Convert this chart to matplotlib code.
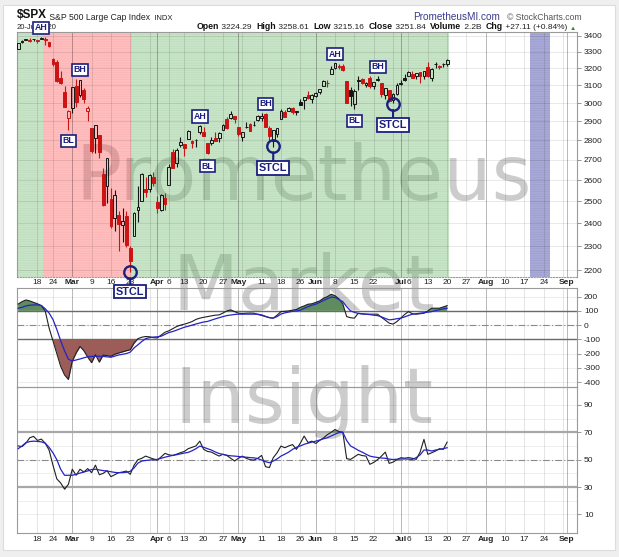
import matplotlib
matplotlib.use('Agg')
import matplotlib.pyplot as plt
import numpy as np
import pandas as pd
from matplotlib.patches import Rectangle
from matplotlib.text import Annotation

plt.rcParams['font.family'] = ['Liberation Sans', 'DejaVu Sans']
plt.rcParams['hatch.linewidth'] = 0.35

# ---------------- data ----------------
dates = [
    '2020-02-10', '2020-02-11', '2020-02-12', '2020-02-13', '2020-02-14',
    '2020-02-18', '2020-02-19', '2020-02-20', '2020-02-21',
    '2020-02-24', '2020-02-25', '2020-02-26', '2020-02-27', '2020-02-28',
    '2020-03-02', '2020-03-03', '2020-03-04', '2020-03-05', '2020-03-06',
    '2020-03-09', '2020-03-10', '2020-03-11', '2020-03-12', '2020-03-13',
    '2020-03-16', '2020-03-17', '2020-03-18', '2020-03-19', '2020-03-20',
    '2020-03-23', '2020-03-24', '2020-03-25', '2020-03-26', '2020-03-27',
    '2020-03-30', '2020-03-31', '2020-04-01', '2020-04-02', '2020-04-03',
    '2020-04-06', '2020-04-07', '2020-04-08', '2020-04-09',
    '2020-04-13', '2020-04-14', '2020-04-15', '2020-04-16', '2020-04-17',
    '2020-04-20', '2020-04-21', '2020-04-22', '2020-04-23', '2020-04-24',
    '2020-04-27', '2020-04-28', '2020-04-29', '2020-04-30', '2020-05-01',
    '2020-05-04', '2020-05-05', '2020-05-06', '2020-05-07', '2020-05-08',
    '2020-05-11', '2020-05-12', '2020-05-13', '2020-05-14', '2020-05-15',
    '2020-05-18', '2020-05-19', '2020-05-20', '2020-05-21', '2020-05-22',
    '2020-05-26', '2020-05-27', '2020-05-28', '2020-05-29',
    '2020-06-01', '2020-06-02', '2020-06-03', '2020-06-04', '2020-06-05',
    '2020-06-08', '2020-06-09', '2020-06-10', '2020-06-11', '2020-06-12',
    '2020-06-15', '2020-06-16', '2020-06-17', '2020-06-18', '2020-06-19',
    '2020-06-22', '2020-06-23', '2020-06-24', '2020-06-25', '2020-06-26',
    '2020-06-29', '2020-06-30', '2020-07-01', '2020-07-02',
    '2020-07-06', '2020-07-07', '2020-07-08', '2020-07-09', '2020-07-10',
    '2020-07-13', '2020-07-14', '2020-07-15', '2020-07-16', '2020-07-17',
    '2020-07-20',
]

opens = [
    3318.28, 3365.87, 3370.50, 3365.90, 3378.08,
    3369.04, 3380.39, 3380.45, 3360.50,
    3257.61, 3238.94, 3139.90, 3062.54, 2916.90,
    2974.28, 3096.46, 3045.75, 3075.70, 2954.20,
    2863.89, 2813.48, 2825.60, 2630.86, 2569.99,
    2508.59, 2425.66, 2436.50, 2393.48, 2431.94,
    2290.71, 2344.44, 2457.77, 2501.29, 2555.87,
    2558.98, 2614.69, 2498.08, 2458.54, 2514.92,
    2578.28, 2738.65, 2685.00, 2776.99,
    2782.46, 2805.10, 2795.64, 2799.34, 2842.43,
    2845.62, 2784.81, 2787.89, 2810.42, 2812.64,
    2854.65, 2909.96, 2918.46, 2930.91, 2869.09,
    2815.01, 2868.88, 2883.14, 2878.26, 2908.83,
    2915.46, 2939.50, 2865.86, 2794.54, 2829.95,
    2913.86, 2948.59, 2953.63, 2969.95, 2948.05,
    3004.08, 3015.65, 3046.61, 3025.17,
    3038.78, 3064.78, 3098.90, 3111.56, 3163.84,
    3199.92, 3213.32, 3213.42, 3123.53, 3071.04,
    2993.76, 3131.00, 3136.13, 3101.64, 3140.29,
    3094.42, 3138.70, 3114.40, 3046.60, 3073.20,
    3018.59, 3050.20, 3105.92, 3143.64,
    3155.29, 3166.44, 3153.07, 3176.17, 3152.47,
    3205.08, 3141.11, 3225.98, 3208.36, 3224.21,
    3224.29,
]
highs = [
    3352.26, 3375.63, 3381.47, 3385.09, 3380.69,
    3375.01, 3393.52, 3389.15, 3360.76,
    3259.81, 3246.99, 3182.51, 3097.07, 2959.72,
    3090.96, 3136.72, 3130.97, 3083.04, 2985.93,
    2863.89, 2882.59, 2825.60, 2660.95, 2711.33,
    2562.98, 2553.93, 2453.57, 2466.97, 2453.01,
    2300.73, 2449.71, 2571.42, 2637.01, 2615.91,
    2631.80, 2641.39, 2522.75, 2533.22, 2538.18,
    2676.85, 2756.89, 2760.75, 2818.57,
    2782.46, 2851.85, 2801.88, 2806.51, 2879.22,
    2868.98, 2785.54, 2815.10, 2844.90, 2842.71,
    2887.72, 2921.15, 2954.86, 2930.91, 2869.09,
    2844.24, 2898.23, 2891.11, 2901.92, 2932.16,
    2944.25, 2945.82, 2874.14, 2852.80, 2865.01,
    2968.09, 2964.21, 2980.29, 2978.50, 2956.76,
    3021.72, 3036.25, 3068.67, 3049.17,
    3062.18, 3081.07, 3130.94, 3128.91, 3211.72,
    3233.13, 3222.71, 3223.27, 3123.53, 3088.42,
    3079.76, 3153.45, 3141.16, 3120.00, 3155.53,
    3120.92, 3154.90, 3115.01, 3086.25, 3073.73,
    3053.89, 3111.51, 3128.44, 3165.81,
    3182.59, 3184.15, 3171.80, 3179.78, 3186.82,
    3235.32, 3200.95, 3238.28, 3220.39, 3233.52,
    3258.61,
]
lows = [
    3317.77, 3352.72, 3369.72, 3360.52, 3366.15,
    3355.61, 3378.83, 3341.02, 3328.45,
    3214.65, 3118.77, 3108.99, 2977.39, 2855.84,
    2945.19, 2976.63, 3034.38, 2999.83, 2901.54,
    2734.43, 2734.00, 2707.22, 2478.86, 2492.37,
    2380.94, 2367.04, 2280.52, 2319.78, 2295.56,
    2191.86, 2344.44, 2407.53, 2500.72, 2520.02,
    2545.28, 2571.15, 2447.49, 2455.79, 2459.96,
    2574.57, 2657.67, 2663.30, 2762.36,
    2721.17, 2805.10, 2761.54, 2764.32, 2830.88,
    2820.43, 2727.10, 2775.95, 2794.26, 2791.76,
    2852.89, 2860.71, 2912.16, 2892.47, 2821.61,
    2797.85, 2863.55, 2847.65, 2876.48, 2902.88,
    2903.44, 2869.59, 2793.15, 2766.64, 2816.78,
    2913.86, 2922.35, 2953.63, 2938.57, 2933.59,
    2988.17, 2969.75, 3023.40, 2998.61,
    3031.54, 3051.64, 3098.90, 3090.41, 3163.84,
    3196.00, 3193.11, 3181.49, 2999.49, 2984.47,
    2965.66, 3076.06, 3108.03, 3093.51, 3083.11,
    3079.39, 3127.12, 3032.13, 3024.01, 3004.63,
    2999.74, 3047.83, 3101.17, 3124.52,
    3155.29, 3142.93, 3136.53, 3115.70, 3136.22,
    3149.43, 3127.66, 3200.76, 3198.59, 3205.65,
    3215.16,
]
closes = [
    3352.09, 3357.75, 3379.45, 3373.94, 3380.16,
    3370.29, 3386.15, 3373.23, 3337.75,
    3225.89, 3128.21, 3116.39, 2978.76, 2954.22,
    3090.23, 3003.37, 3130.12, 3023.94, 2972.37,
    2746.56, 2882.23, 2741.38, 2480.64, 2711.02,
    2386.13, 2529.19, 2398.10, 2409.39, 2304.92,
    2237.40, 2447.33, 2475.56, 2630.07, 2541.47,
    2626.65, 2584.59, 2470.50, 2526.90, 2488.65,
    2663.68, 2659.41, 2749.98, 2789.82,
    2761.63, 2846.06, 2783.36, 2799.55, 2874.56,
    2823.16, 2736.56, 2799.31, 2797.80, 2836.74,
    2878.48, 2863.39, 2939.51, 2912.43, 2830.71,
    2842.74, 2868.44, 2848.42, 2881.19, 2929.80,
    2930.32, 2870.12, 2820.00, 2852.50, 2863.70,
    2953.91, 2922.94, 2971.61, 2948.51, 2955.45,
    2991.77, 3036.13, 3029.73, 3044.31,
    3055.73, 3080.82, 3122.87, 3112.35, 3193.93,
    3232.39, 3207.18, 3190.14, 3002.10, 3041.31,
    3066.59, 3124.74, 3113.49, 3115.34, 3097.74,
    3117.86, 3131.29, 3050.33, 3083.76, 3009.05,
    3053.24, 3100.29, 3115.86, 3130.01,
    3179.72, 3145.32, 3169.94, 3152.05, 3185.04,
    3155.22, 3197.52, 3226.56, 3215.57, 3224.73,
    3251.84,
]
volume_text = '2.2B'

cci = [
    148, 165, 177, 170, 160,
    150, 137, 100, -20,
    -110, -200, -290, -350, -382,
    -254, -196, -150, -180, -225,
    -264, -208, -260, -210, -215,
    -219, -205, -196, -188, -180,
    -173, -126, -95, -85, -80,
    -82, -88, -90, -70, -50,
    -40, -25, -10, 0,
    7, 15, 25, 40, 49,
    55, 60, 65, 70, 72,
    85, 100, 107, 95, 84,
    82, 84, 85, 84, 75,
    68, 60, 52, 49, 70,
    95, 97, 100, 105, 110,
    125, 135, 147, 150,
    160, 170, 189, 200, 217,
    207, 185, 150, 60, 52,
    49, 84, 80, 77, 77,
    77, 77, 55, 35, 14,
    7, 25, 49, 75,
    95, 80, 77, 80, 84,
    100, 119, 119, 119, 128,
    137,
]
cci_ma = [
    119, 125, 135, 140, 142,
    142, 138, 115, 85,
    40, -30, -110, -180, -240,
    -252, -245, -238, -230, -222,
    -220, -219, -219, -220, -223,
    -226, -218, -210, -205, -200,
    -190, -160, -138, -115, -95,
    -88, -84, -82, -78, -65,
    -52, -45, -35, -25,
    -15, -8, 0, 8, 15,
    22, 26, 35, 44, 52,
    60, 67, 71, 75, 77,
    77, 77, 77, 77, 77,
    72, 62, 53, 49, 60,
    78, 86, 92, 97, 100,
    105, 118, 130, 140,
    147, 160, 173, 186, 197,
    195, 180, 165, 130, 100,
    90, 82, 78, 77, 74,
    70, 67, 58, 47, 37,
    40, 45, 49, 58,
    68, 77, 80, 84, 87,
    91, 95, 102, 108, 114,
    119,
]
rsi = [
    60, 59.5, 62, 66, 67,
    64, 65, 62, 57,
    46, 36, 33, 28.5, 32,
    43, 38.6, 43, 41, 43.5,
    40.5, 46, 39, 40, 42,
    37.6, 39, 40.5, 41, 41.7,
    39.3, 46, 50, 51, 52.6,
    51.5, 50.5, 49.7, 52, 54.6,
    53.5, 53.1, 54, 55.1,
    56, 58, 59, 60, 63.5,
    57.5, 56, 55.5, 54, 52.6,
    54, 53, 51, 49, 51,
    52.6, 51, 50, 49.7, 51,
    53.1, 44.9, 44.2, 51.4, 55,
    59.9, 58.7, 60, 61, 57.5,
    62, 67.2, 62.5, 63.5,
    61.8, 64, 65.8, 68.2, 70,
    72, 70.5, 70, 50.7, 50.2,
    52, 53.9, 53, 52.6, 46.6,
    48, 50, 52.6, 55.5, 47.3,
    48.2, 50, 51.4, 51.1,
    51.5, 51, 50.2, 55.5, 64.8,
    53.9, 55, 56.3, 58, 57.5,
    62.8,
]
rsi_ma = [
    58, 60, 62.4, 63.2, 63.5,
    63.3, 63, 62, 59,
    55, 50, 43, 38.6, 38.6,
    38.6, 39.3, 40.2, 41, 41.8,
    42.8, 43, 42.5, 42, 41.7,
    41.2, 40.7, 40.5, 40.5, 40.8,
    41.5, 44, 47.5, 49, 49.4,
    49.7, 50, 50.2, 51, 51.8,
    52.5, 53.1, 53.6, 54.2,
    54.8, 55.3, 56.5, 58, 59.9,
    59, 58, 57, 55.6, 54.5,
    53.8, 53.2, 52.8, 52.6, 52.3,
    52, 51.8, 51.5, 51.3, 50.8,
    49.7, 48.5, 47.8, 49, 50.5,
    52.6, 54, 55.5, 57.5, 59,
    60, 61.2, 62, 62.8,
    63.5, 64.3, 65.2, 66, 67.3,
    68.6, 69.7, 70, 64, 60,
    58.5, 56.8, 55.5, 54, 52.6,
    52, 51.6, 51.2, 51, 50.4,
    50.1, 50.3, 50.5, 50.5,
    50.4, 50.2, 51.5, 53.5, 57,
    57, 56.3, 57, 57.5, 58,
    58.7,
]

# shaded periods (inclusive date ranges)
green_periods = [('2020-02-10', '2020-02-19'), ('2020-03-24', '2020-07-20')]
red_periods = [('2020-02-20', '2020-03-23')]
purple_periods = [('2020-08-19', '2020-08-25')]

# signal boxes
box_labels = ['AH', 'BH', 'BL', 'AH', 'BL', 'BH', 'AH', 'BH', 'BL']
box_dates = ['2020-02-19', '2020-03-04', '2020-02-28', '2020-04-17', '2020-04-21',
             '2020-05-12', '2020-06-08', '2020-06-23', '2020-06-15']
box_prices = [3449, 3190, 2798, 2926, 2669, 2997, 3286, 3208, 2903]
stcl_dates = ['2020-03-23', '2020-05-14', '2020-06-29']
stcl_circle_prices = [2192, 2770, 2996]
stcl_box_prices = [2113, 2659, 2880]

xtick_dates = ['2020-02-18', '2020-02-24', '2020-03-02', '2020-03-09', '2020-03-16',
               '2020-03-23', '2020-04-01', '2020-04-06', '2020-04-13', '2020-04-20',
               '2020-04-27', '2020-05-01', '2020-05-11', '2020-05-18', '2020-05-26',
               '2020-06-01', '2020-06-08', '2020-06-15', '2020-06-22', '2020-07-01',
               '2020-07-06', '2020-07-13', '2020-07-20', '2020-07-27', '2020-08-03',
               '2020-08-10', '2020-08-17', '2020-08-24', '2020-09-01']
xtick_labels = ['18', '24', 'Mar', '9', '16', '23', 'Apr', '6', '13', '20', '27', 'May',
                '11', '18', '26', 'Jun', '8', '15', '22', 'Jul', '6', '13', '20', '27',
                'Aug', '10', '17', '24', 'Sep']
extra_grid_dates = ['2020-03-30', '2020-05-04', '2020-06-29', '2020-08-31']
month_names = ['Mar', 'Apr', 'May', 'Jun', 'Jul', 'Aug', 'Sep']

price_ticks = [2200, 2300, 2400, 2500, 2600, 2700, 2800, 2900, 3000, 3100, 3200, 3300, 3400]
cci_ticks = [200, 100, 0, -100, -200, -300, -400]
rsi_ticks = [90, 70, 50, 30, 10]

# ---------------- layout ----------------
W, H = 619, 557
fig = plt.figure(figsize=(W / 100, H / 100), dpi=100, facecolor='#efefef')


def fx(px):
    return px / W


def fy(py):
    return 1 - py / H


fig.add_artist(Rectangle((fx(3), fy(550)), fx(615) - fx(3), fy(5) - fy(550),
                         transform=fig.transFigure, facecolor='white',
                         edgecolor='#dcdcdc', lw=0.8, zorder=-3))

# watermark (under the plots)
for word, base in [('Prometheus', 200), ('Market', 310), ('Insight', 423)]:
    fig.text(fx(304), fy(base), word, fontsize=55, family='DejaVu Sans',
             ha='center', va='baseline', color='#7a7a7a', alpha=0.38, zorder=-1)

L, R = 17, 577
ax = fig.add_axes([fx(L), fy(277), fx(R) - fx(L), fy(32) - fy(277)], facecolor='none')
ax2 = fig.add_axes([fx(L), fy(387), fx(R) - fx(L), fy(288) - fy(387)], facecolor='none')
ax3 = fig.add_axes([fx(L), fy(533), fx(R) - fx(L), fy(387) - fy(533)], facecolor='none')
ax.set_zorder(1)

all_dates = list(pd.to_datetime(dates)) + list(pd.bdate_range('2020-07-21', '2020-09-04'))
pos = {d.strftime('%Y-%m-%d'): k for k, d in enumerate(all_dates)}
X = np.arange(len(dates))
XMIN, XMAX = -0.3, 144.6

grid_positions = sorted(set([pos[d] for d in xtick_dates + extra_grid_dates]))
month_positions = [pos[d] for d, lab in zip(xtick_dates, xtick_labels) if lab in month_names]
tick_pos = [pos[d] for d in xtick_dates]

navy = '#1b1f7e'

for a in (ax, ax2, ax3):
    a.set_xlim(XMIN, XMAX)
    for xp in grid_positions:
        if xp in month_positions:
            a.axvline(xp, color='#000000', alpha=0.28, lw=0.7, zorder=0.6)
        else:
            a.axvline(xp, color='#000000', alpha=0.12, lw=0.6, zorder=0.6)
    for s in a.spines.values():
        s.set_color('#9a9a9a')
        s.set_linewidth(0.8)
    a.yaxis.tick_right()
    a.tick_params(axis='y', which='both', length=3, width=0.6, color='#888888',
                  labelsize=6, labelcolor='#222222', pad=2)
    a.tick_params(axis='x', which='both', length=0, labelsize=6, labelcolor='#222222')
    a.tick_params(axis='y', which='minor', length=0)

# ---------------- main price panel ----------------
ax.set_yscale('log')
ax.set_ylim(2172, 3423)
ax.yaxis.set_minor_locator(matplotlib.ticker.NullLocator())
ax.set_yticks(price_ticks)
ax.set_yticklabels([str(v) for v in price_ticks])
for v in price_ticks:
    ax.axhline(v, color='#000000', alpha=0.10, lw=0.6, zorder=0.6)

for periods, fc, hc in [(green_periods, (0.46, 0.74, 0.46, 0.40), (0.30, 0.55, 0.30, 0.10)),
                        (red_periods, (1.0, 0.36, 0.36, 0.40), (0.7, 0.2, 0.2, 0.08)),
                        (purple_periods, (0.16, 0.16, 0.61, 0.40), (0.1, 0.1, 0.4, 0.10))]:
    for d0, d1 in periods:
        ax.axvspan(pos[d0] - 0.5, pos[d1] + 0.5, facecolor=fc, edgecolor=hc,
                   hatch='-------', lw=0, zorder=0.3)

o = np.array(opens)
h = np.array(highs)
lo = np.array(lows)
c = np.array(closes)
prev = np.r_[c[0], c[:-1]]
cols = np.where(c >= prev, '#151515', '#cc1414')
body_lo = np.minimum(o, c)
body_hi = np.maximum(o, c)
ax.vlines(X, lo, body_lo, colors=cols, lw=0.8, zorder=3)
ax.vlines(X, body_hi, h, colors=cols, lw=0.8, zorder=3)
faces = [col if cl < op else 'none' for col, cl, op in zip(cols, c, o)]
ax.bar(X, body_hi - body_lo, bottom=body_lo, width=0.72, color=faces,
       edgecolor=cols, linewidth=0.7, zorder=4)

ax.set_xticks(tick_pos)
ax.set_xticklabels(xtick_labels)
ax.tick_params(axis='x', pad=1.5)
ax.spines['bottom'].set_linestyle((0, (1, 1.5)))

# signal boxes
for lab, d, p in zip(box_labels, box_dates, box_prices):
    ax.text(pos[d], p, lab, ha='center', va='center', fontsize=6.3, weight='bold',
            color=navy, zorder=10, clip_on=False,
            bbox=dict(boxstyle='square,pad=0.18', fc='white', ec=navy, lw=1.2))
for d, pc, pb in zip(stcl_dates, stcl_circle_prices, stcl_box_prices):
    xp = pos[d]
    ax.annotate('', xy=(xp, pc), xytext=(xp, pb), annotation_clip=False,
                arrowprops=dict(arrowstyle='-', color=navy, lw=1.5, shrinkA=0, shrinkB=4.5),
                zorder=9)
    ax.plot([xp], [pc], 'o', ms=9, mfc='none', mec=navy, mew=1.7, zorder=9, clip_on=False)
    ax.text(xp, pb, 'STCL', ha='center', va='center', fontsize=7.8, weight='bold',
            color=navy, zorder=10, clip_on=False,
            bbox=dict(boxstyle='square,pad=0.15', fc='white', ec=navy, lw=1.3))

# ---------------- CCI panel ----------------
cci_a = np.array(cci, dtype=float)
ax2.set_ylim(-435, 261)
for v in cci_ticks:
    ax2.axhline(v, color='#000000', alpha=0.09, lw=0.6, zorder=0.6)
ax2.axhline(100, color='#6a6a6a', lw=1.0, zorder=1)
ax2.axhline(-100, color='#6a6a6a', lw=1.0, zorder=1)
ax2.axhline(0, color='#8a8a8a', lw=0.8, ls=(0, (6, 2, 1, 2)), zorder=1)
ax2.fill_between(X, cci_a, 100, where=cci_a >= 100, interpolate=True,
                 color='#5f8c5f', zorder=2, lw=0)
ax2.fill_between(X, cci_a, -100, where=cci_a <= -100, interpolate=True,
                 color='#9c5d58', zorder=2, lw=0)
ax2.plot(X, cci_a, color='#202020', lw=0.8, zorder=4)
ax2.plot(X, cci_ma, color='#2424c4', lw=0.9, zorder=5)
ax2.set_yticks(cci_ticks)
ax2.set_yticklabels([str(v) for v in cci_ticks])
ax2.set_xticks([])

# ---------------- RSI panel ----------------
rsi_a = np.array(rsi, dtype=float)
ax3.set_ylim(-3.5, 103)
for v in range(10, 100, 10):
    ax3.axhline(v, color='#000000', alpha=0.08, lw=0.6, zorder=0.6)
ax3.axhline(70, color='#a8a8a8', lw=1.6, zorder=1)
ax3.axhline(30, color='#a8a8a8', lw=1.6, zorder=1)
ax3.axhline(50, color='#8a8a8a', lw=0.8, ls=(0, (6, 2, 1, 2)), zorder=1)
ax3.fill_between(X, rsi_a, 70, where=rsi_a >= 70, interpolate=True,
                 color='#5f8c5f', zorder=2, lw=0)
ax3.fill_between(X, rsi_a, 30, where=rsi_a <= 30, interpolate=True,
                 color='#9c5d58', zorder=2, lw=0)
ax3.plot(X, rsi_a, color='#202020', lw=0.8, zorder=4)
ax3.plot(X, rsi_ma, color='#2424c4', lw=0.9, zorder=5)
ax3.set_yticks(rsi_ticks)
ax3.set_yticklabels([str(v) for v in rsi_ticks])
ax3.set_xticks(tick_pos)
ax3.set_xticklabels(xtick_labels)
ax3.tick_params(axis='x', pad=2)

for a in (ax, ax3):
    for t in a.get_xticklabels():
        if t.get_text() in month_names:
            t.set_fontweight('bold')

# ---------------- header texts ----------------


def chain(first, parts):
    prev_t = first
    for s, kw in parts:
        an = Annotation(s, xy=(1, 0), xycoords=prev_t, xytext=(0, 0),
                        textcoords='offset points', va='bottom', ha='left', **kw)
        fig.add_artist(an)
        prev_t = an


t0 = fig.text(fx(17), fy(21.5), r'\$SPX', fontsize=8.5, weight='bold', va='bottom', color='#111111')
chain(t0, [(' S&P 500 Large Cap Index', dict(fontsize=6.2, color='#222222')),
           ('  INDX', dict(fontsize=5.5, color='#222222'))])

fig.text(fx(17), fy(31), all_dates[len(dates) - 1].strftime('%d-%b-%Y').lstrip('0'),
         fontsize=5.5, color='#222222', va='bottom', zorder=-0.5)

chg = closes[-1] - closes[-2]
pct = chg / closes[-2] * 100
bold = dict(fontsize=6.3, weight='bold', color='#111111')
norm = dict(fontsize=6.0, color='#222222')
h0 = fig.text(fx(197), fy(31), 'Open', va='bottom', **bold)
chain(h0, [(' %.2f  ' % opens[-1], norm), ('High', bold), (' %.2f  ' % highs[-1], norm),
           ('Low', bold), (' %.2f  ' % lows[-1], norm), ('Close', bold),
           (' %.2f  ' % closes[-1], norm), ('Volume', bold), (' %s  ' % volume_text, norm),
           ('Chg', bold), (' %+.2f (%+.2f%%) ' % (chg, pct), norm),
           ('\u25b2', dict(fontsize=4.5, color='#2e8b2e'))])

fig.text(fx(413), fy(21.5), 'PrometheusMI.com', fontsize=7.2, color='#3a3a8e', va='bottom')
fig.text(fx(507), fy(21.5), '\u00a9 StockCharts.com', fontsize=6.2, color='#555555', va='bottom')

fig.savefig('out.png', dpi=100, facecolor=fig.get_facecolor())
